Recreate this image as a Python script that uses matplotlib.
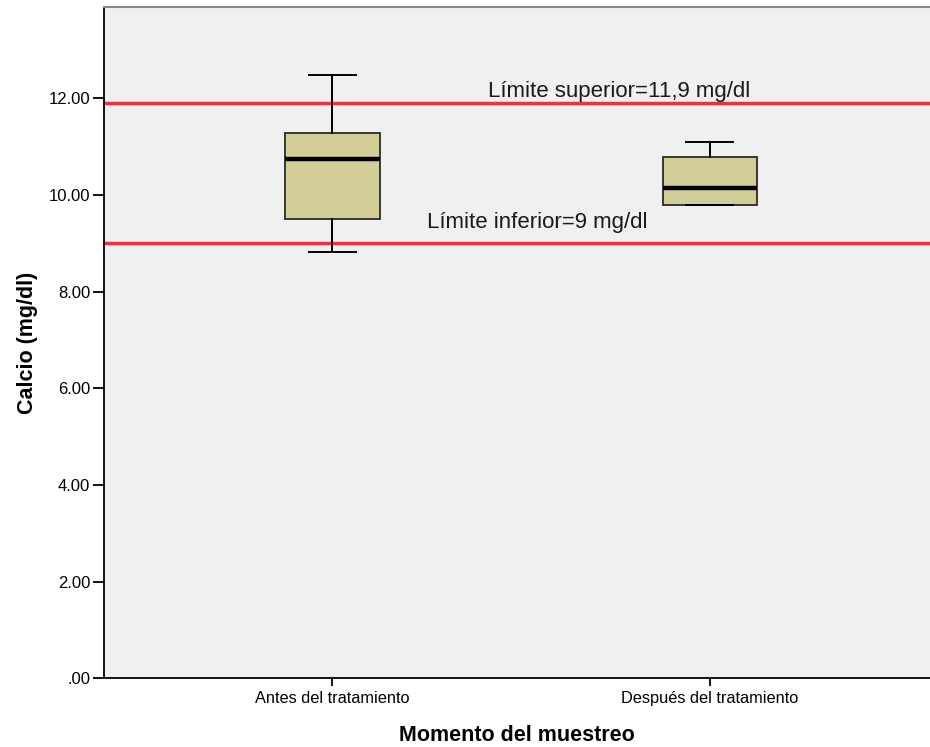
import matplotlib
matplotlib.use("Agg")
import matplotlib.pyplot as plt

# values
categories = ["Antes del tratamiento", "Después del tratamiento"]
whisker_low = [8.83, 9.79]
q1 = [9.50, 9.79]
median = [10.74, 10.14]
q3 = [11.29, 10.79]
whisker_high = [12.49, 11.09]
limit_upper = 11.9
limit_lower = 9.0
yticks = [0, 2, 4, 6, 8, 10, 12]
ytick_labels = [".00", "2.00", "4.00", "6.00", "8.00", "10.00", "12.00"]

plt.rcParams["font.family"] = ["Liberation Sans", "DejaVu Sans"]

fig = plt.figure(figsize=(9.3, 7.47), dpi=100)
ax = fig.add_axes([0.1113, 0.092, 0.8887, 0.898])
ax.set_facecolor("#f0f0f0")

stats = []
for i, name in enumerate(categories):
    stats.append({"label": name, "whislo": whisker_low[i], "q1": q1[i],
                  "med": median[i], "q3": q3[i], "whishi": whisker_high[i],
                  "fliers": []})

ax.bxp(stats, positions=[1, 2], widths=0.25, patch_artist=True,
       showfliers=False, capwidths=0.124, zorder=3,
       boxprops=dict(facecolor="#d3ce98", edgecolor="#2a2a2a", linewidth=1.3),
       medianprops=dict(color="black", linewidth=3.2),
       whiskerprops=dict(color="black", linewidth=1.4),
       capprops=dict(color="black", linewidth=1.4))

ax.axhline(limit_upper, color="#ee3340", linewidth=2.5, zorder=2)
ax.axhline(limit_lower, color="#ee3340", linewidth=2.5, zorder=2)
ax.text(1.412, 12.03, "Límite superior=11,9 mg/dl", fontsize=16,
        color="#1a1a1a", va="baseline")
ax.text(1.251, 9.32, "Límite inferior=9 mg/dl", fontsize=16,
        color="#1a1a1a", va="baseline")

ax.set_xlim(0.393, 2.584)
ax.set_ylim(0, 13.88)
ax.set_yticks(yticks)
ax.set_yticklabels(ytick_labels)
ax.set_xticks([1, 2])
ax.set_xticklabels(categories)
ax.tick_params(axis="y", labelsize=12, length=8, width=1.3, direction="out",
               pad=1.5)
ax.tick_params(axis="x", length=6, width=1.3, direction="out", pad=3,
               labelsize=11.8)

ax.set_ylabel("Calcio (mg/dl)", fontsize=15.5, fontweight="bold", labelpad=8)
ax.set_xlabel("Momento del muestreo", fontsize=15.5, fontweight="bold",
              labelpad=14)

ax.spines["left"].set_linewidth(1.3)
ax.spines["bottom"].set_linewidth(1.3)
ax.spines["top"].set_color("#888888")
ax.spines["top"].set_linewidth(1.5)
ax.spines["right"].set_visible(False)

fig.savefig("out.png", dpi=100, facecolor="white")
